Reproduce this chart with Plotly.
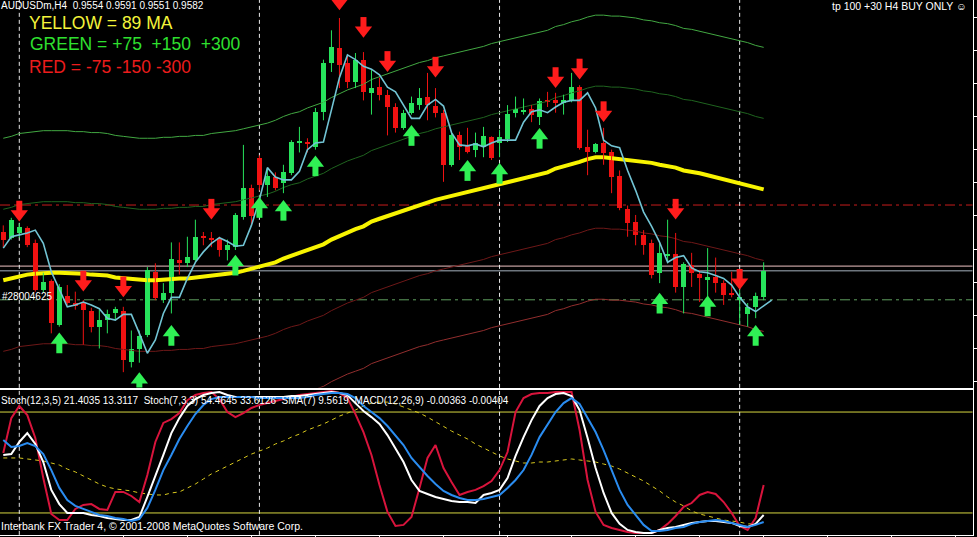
import plotly.graph_objects as go

# ---------------- data (prices in pips = price * 10000) ----------------
PIP = 0.0001
open_pips = [9623,9617,9622,9627,9611,9562,9571,9525,9555,9548,
             9548,9540,9523,9530,9537,9540,9486,9499,9514,9581,
             9551,9559,9593,9590,9593,9619,9617,9617,9604,9607,
             9639,9669,9701,9673,9681,9675,9685,9717,9718,9713,
             9750,9802,9817,9801,9781,9805,9770,9776,9768,9755,
             9733,9749,9757,9766,9756,9749,9694,9725,9715,9710,
             9713,9723,9717,9721,9749,9750,9753,9744,9762,9762,
             9760,9761,9776,9713,9708,9717,9707,9682,9647,9634,
             9620,9611,9580,9598,9600,9565,9588,9579,9572,9575,
             9569,9559,9551,9536,9544,9554]
high_pips = [9630,9638,9632,9629,9615,9580,9573,9568,9567,9560,
             9551,9543,9541,9541,9544,9544,9519,9519,9586,9590,
             9569,9612,9612,9618,9636,9623,9623,9618,9615,9643,
             9715,9673,9704,9691,9686,9694,9720,9734,9722,9754,
             9805,9836,9849,9810,9812,9813,9794,9786,9773,9759,
             9752,9766,9775,9791,9775,9752,9729,9729,9733,9728,
             9734,9724,9731,9757,9766,9764,9757,9764,9771,9770,
             9768,9791,9778,9731,9717,9733,9710,9688,9651,9641,
             9625,9615,9611,9636,9622,9591,9601,9583,9606,9596,
             9572,9581,9562,9548,9559,9591]
low_pips = [9607,9615,9617,9607,9560,9559,9516,9523,9546,9541,
            9504,9517,9500,9516,9530,9475,9480,9485,9512,9551,
            9548,9537,9578,9586,9591,9609,9607,9597,9593,9604,
            9636,9630,9667,9660,9667,9664,9683,9707,9707,9710,
            9741,9792,9775,9775,9775,9762,9747,9762,9725,9728,
            9731,9747,9752,9741,9744,9676,9692,9699,9706,9702,
            9702,9699,9702,9718,9744,9747,9739,9736,9755,9749,
            9747,9760,9710,9683,9706,9694,9664,9646,9618,9609,
            9599,9574,9569,9590,9559,9537,9565,9549,9546,9559,
            9546,9554,9525,9523,9532,9551]
close_pips = [9615,9636,9628,9609,9562,9570,9527,9565,9548,9545,
              9541,9523,9530,9536,9542,9488,9499,9513,9583,9553,
              9559,9594,9590,9597,9618,9617,9615,9604,9609,9641,
              9670,9640,9673,9682,9670,9686,9718,9718,9716,9750,
              9801,9818,9799,9781,9805,9771,9775,9768,9755,9733,
              9749,9759,9765,9757,9749,9694,9725,9713,9708,9717,
              9724,9701,9723,9748,9753,9752,9747,9761,9761,9760,
              9762,9776,9712,9707,9716,9706,9681,9648,9632,9620,
              9609,9578,9601,9600,9565,9589,9580,9574,9575,9569,
              9556,9556,9554,9544,9555,9582]

# 89-period moving average (yellow)
ma89_pips = [9572,9574,9577,9578,9579,9580,9580,9580,9580,9579,
             9579,9578,9578,9577,9575,9574,9573,9572,9572,9572,
             9573,9573,9574,9574,9575,9575,9577,9578,9579,9580,
             9582,9584,9586,9588,9591,9595,9598,9600,9604,9607,
             9610,9615,9619,9623,9626,9629,9634,9637,9640,9643,
             9646,9649,9652,9654,9657,9659,9661,9663,9665,9667,
             9669,9672,9674,9676,9678,9680,9682,9684,9686,9690,
             9692,9695,9697,9700,9702,9702,9701,9701,9700,9699,
             9697,9696,9694,9693,9691,9688,9687,9685,9683,9681,
             9679,9677,9675,9673,9670,9668]
band_pips_up = [75, 150, 300]
band_pips_dn = [75, 150, 300]

# fast shifted MA (light blue), one bar longer than the candles
fast_ma_pips = [9606,9618,9620,9622,9625,9611,9581,9563,9544,9546,
                9549,9546,9542,9532,9530,9536,9536,9516,9495,9509,
                9537,9554,9554,9574,9591,9602,9611,9617,9613,9608,
                9609,9630,9657,9691,9681,9678,9678,9687,9710,9717,
                9718,9752,9786,9810,9805,9798,9795,9789,9776,9771,
                9757,9743,9743,9757,9763,9756,9728,9715,9714,9716,
                9713,9717,9720,9720,9720,9739,9750,9752,9749,9755,
                9760,9762,9762,9770,9754,9720,9714,9712,9688,9667,
                9644,9629,9612,9591,9596,9598,9585,9581,9580,9577,
                9574,9567,9554,9544,9539,9545,9551]

# signal arrows (bar index, arrow tip in pips)
down_idx = [2, 10, 15, 26, 42, 45, 48, 54, 69, 72, 75, 84, 92]
down_tip_pips = [9634, 9560, 9554, 9636, 9857, 9828, 9792, 9786, 9775, 9784, 9739, 9636, 9562]
up_idx = [7, 17, 21, 29, 32, 35, 39, 51, 58, 62, 67, 82, 88, 94]
up_tip_pips = [9517, 9475, 9525, 9599, 9660, 9657, 9704, 9736, 9699, 9696, 9733, 9559, 9556, 9525]

# horizontal price lines
stop_red_level = 0.96515
order_green_level = 0.95514
ask_level = 0.9587
bid_level = 0.9582

# period separators (bar index)
separator_idx = [2, 32, 62, 92]
time_tick_idx = list(range(7, 121, 8))

# lower window indicators
stoch7_main = [55.6,76.4,83.6,78.2,64.6,40.8,19.4,15.8,15.8,22.4,
               24.8,25.3,22.4,21.8,32.5,32.5,30.1,26.5,42.6,62.2,
               73.5,75.8,79.4,87.1,90.1,91.3,91.9,87.7,80.0,77.0,
               79.4,82.4,84.2,85.3,86.5,87.7,88.9,90.1,90.7,91.3,
               91.9,92.5,91.3,88.3,78.8,68.1,54.5,36.6,20.6,12.3,
               12.9,17.6,34.9,52.7,60.4,46.7,38.4,30.7,32.5,33.7,
               36.0,39.0,45.5,56.2,80.0,88.3,90.7,91.3,91.3,91.9,
               91.9,91.9,69.3,39.6,20.6,12.9,11.1,9.9,8.7,8.1,
               8.1,8.1,9.9,13.5,18.2,23.6,25.9,30.7,32.5,31.3,
               26.5,20.0,12.3,9.9,17.0,36.6]
stoch12_main = [54.5,55.0,62.2,67.5,61.0,50.3,33.7,25.3,20.0,20.0,
                20.0,18.8,18.2,17.0,16.4,15.8,15.8,17.6,29.5,42.6,
                54.5,67.5,76.4,83.6,87.7,90.1,91.3,91.9,90.1,88.9,
                88.9,88.9,88.9,88.9,88.9,88.9,89.5,89.5,90.1,90.7,
                91.3,91.9,91.3,90.1,85.3,80.6,77.0,72.9,66.3,58.6,
                50.3,39.6,33.1,31.3,29.5,28.3,27.1,26.5,26.5,25.9,
                30.7,31.9,33.7,40.8,53.9,65.1,75.2,83.6,88.3,90.7,
                91.3,89.5,81.2,64.6,46.7,31.9,20.0,13.5,9.9,8.7,
                8.1,8.1,9.9,11.1,11.7,12.9,14.1,14.6,15.2,15.2,
                14.6,14.1,12.3,11.7,13.5,18.8]
stoch12_signal = [63.4,59.2,59.8,61.6,59.8,55.0,45.5,34.9,27.7,24.2,
                  22.4,20.6,18.8,18.2,17.0,16.4,15.2,16.4,23.0,33.7,
                  45.5,54.5,64.0,71.7,78.8,84.2,87.7,88.9,88.9,88.9,
                  88.9,88.9,88.3,88.3,88.3,88.3,88.3,88.3,88.9,90.1,
                  90.7,91.3,91.3,90.7,88.3,83.6,80.0,76.4,71.7,65.7,
                  60.4,52.7,47.3,42.0,37.2,33.1,30.7,28.9,27.7,27.7,
                  28.3,29.5,30.7,34.9,39.6,45.5,54.5,65.1,72.9,80.0,
                  85.3,88.3,84.8,76.4,68.1,57.4,45.5,33.7,24.8,18.8,
                  12.9,9.3,9.3,9.9,11.1,11.7,13.5,14.6,15.2,15.8,
                  15.2,14.1,12.9,11.7,12.9,14.6]
sma7_line = [52.7,52.7,52.7,52.1,51.5,50.9,49.7,48.5,46.1,44.4,
             42.0,39.6,37.2,35.4,34.3,33.7,33.1,31.9,31.3,30.7,
             30.7,31.9,32.5,34.9,37.2,40.2,43.2,45.5,47.9,50.3,
             52.7,55.0,56.8,58.6,61.0,62.8,65.1,66.9,69.3,71.1,
             72.9,75.2,77.6,79.4,81.2,83.6,85.3,85.9,85.9,84.8,
             83.0,81.2,79.4,77.0,74.1,71.7,68.7,66.3,64.0,61.0,
             58.6,56.2,53.9,52.1,50.9,49.7,49.7,50.3,50.3,50.9,
             51.5,52.1,51.5,50.9,50.3,49.1,47.9,46.1,43.8,41.4,
             39.0,36.0,33.1,29.5,26.5,24.2,21.2,19.4,18.2,17.0,
             15.8,15.2,14.6,13.5,13.5,14.1]
stoch_levels = [80, 20]

# ---------------- build ----------------
o = [v * PIP for v in open_pips]
h = [v * PIP for v in high_pips]
l = [v * PIP for v in low_pips]
c = [v * PIP for v in close_pips]
ma = [v * PIP for v in ma89_pips]
fast = [v * PIP for v in fast_ma_pips]
n = len(o)
idx = list(range(n))

GREEN = "#27e35c"
RED = "#f01212"
AGREEN = "#30f055"
ARED = "#ff1c1c"

fig = go.Figure()

# bands around the 89 MA
band_styles_up = {75: "#1f641f", 150: "#42a842", 300: "#42a842"}
band_styles_dn = {75: "#6e1818", 150: "#922e2e", 300: "#922e2e"}
for p in band_pips_up:
    fig.add_trace(go.Scatter(x=idx, y=[m + p * PIP for m in ma], mode="lines",
                             line=dict(color=band_styles_up[p], width=1), hoverinfo="skip"))
for p in band_pips_dn:
    fig.add_trace(go.Scatter(x=idx, y=[m - p * PIP for m in ma], mode="lines",
                             line=dict(color=band_styles_dn[p], width=1), hoverinfo="skip"))

# yellow 89 MA
fig.add_trace(go.Scatter(x=idx, y=ma, mode="lines", line=dict(color="#f8f400", width=4), hoverinfo="skip"))

# candles
up = [i for i in idx if c[i] >= o[i]]
dn = [i for i in idx if c[i] < o[i]]
MINB = 0.00016
for group, col in ((up, GREEN), (dn, RED)):
    wx, wy = [], []
    for i in group:
        wx += [i, i, None]
        wy += [l[i], h[i], None]
    fig.add_trace(go.Scatter(x=wx, y=wy, mode="lines", line=dict(color=col, width=1), hoverinfo="skip"))
    fig.add_trace(go.Bar(x=group,
                         base=[min(o[i], c[i]) for i in group],
                         y=[max(abs(c[i] - o[i]), MINB) for i in group],
                         width=0.68, marker=dict(color=col, line=dict(width=0)), hoverinfo="skip"))

# fast MA
fig.add_trace(go.Scatter(x=list(range(len(fast))), y=fast, mode="lines",
                         line=dict(color="#72c4d4", width=1.6), hoverinfo="skip"))

# arrows
HEAD = 0.0008
STEM = 0.0022
dt = [v * PIP for v in down_tip_pips]
ut = [v * PIP for v in up_tip_pips]
sx, sy = [], []
for i, t in zip(down_idx, dt):
    sx += [i, i, None]
    sy += [t + HEAD, t + STEM, None]
fig.add_trace(go.Scatter(x=sx, y=sy, mode="lines", line=dict(color=ARED, width=6), hoverinfo="skip"))
fig.add_trace(go.Scatter(x=down_idx, y=[t + HEAD for t in dt], mode="markers",
                         marker=dict(symbol="triangle-down", size=15, color=ARED, line=dict(width=0)),
                         hoverinfo="skip"))
sx, sy = [], []
for i, t in zip(up_idx, ut):
    sx += [i, i, None]
    sy += [t - HEAD, t - STEM, None]
fig.add_trace(go.Scatter(x=sx, y=sy, mode="lines", line=dict(color=AGREEN, width=6), hoverinfo="skip"))
fig.add_trace(go.Scatter(x=up_idx, y=[t - HEAD for t in ut], mode="markers",
                         marker=dict(symbol="triangle-up", size=15, color=AGREEN, line=dict(width=0)),
                         hoverinfo="skip"))

# lower window
fig.add_trace(go.Scatter(x=idx, y=sma7_line, mode="lines", xaxis="x2", yaxis="y2",
                         line=dict(color="#d8c81e", width=1, dash="4px,4px"), hoverinfo="skip"))
fig.add_trace(go.Scatter(x=idx, y=stoch7_main, mode="lines", xaxis="x2", yaxis="y2",
                         line=dict(color="#d8143c", width=2), hoverinfo="skip"))
fig.add_trace(go.Scatter(x=idx, y=stoch12_main, mode="lines", xaxis="x2", yaxis="y2",
                         line=dict(color="#ffffff", width=2), hoverinfo="skip"))
fig.add_trace(go.Scatter(x=idx, y=stoch12_signal, mode="lines", xaxis="x2", yaxis="y2",
                         line=dict(color="#2a8cf0", width=2), hoverinfo="skip"))

shapes = []
DD = "10px,4px,3px,4px"
for lvl, col, dash in ((stop_red_level, "#c81c1c", DD), (order_green_level, "#5f9f5f", DD),
                       (ask_level, "#f0c4c4", "solid"), (bid_level, "#a4b0bc", "solid")):
    shapes.append(dict(type="line", xref="x domain", yref="y", x0=0, x1=1, y0=lvl, y1=lvl,
                       line=dict(color=col, width=1, dash=dash), layer="below"))
for lvl in stoch_levels:
    shapes.append(dict(type="line", xref="x2 domain", yref="y2", x0=0, x1=1, y0=lvl, y1=lvl,
                       line=dict(color="#d6d640", width=1), layer="below"))
for s in separator_idx:
    shapes.append(dict(type="line", xref="x", yref="paper", x0=s, x1=s, y0=0.004, y1=1,
                       line=dict(color="#e8e8e8", width=1, dash="4px,3px"), layer="below"))

W, H = 977, 537


def ann(text, xp, yp, color, size, anchor="left"):
    return dict(text=text, x=xp / W, y=1 - yp / H, xref="paper", yref="paper",
                xanchor=anchor, yanchor="middle", showarrow=False,
                font=dict(family="Liberation Sans, Arial, sans-serif", size=size, color=color))


annotations = [
    ann("AUDUSDm,H4  0.9554 0.9591 0.9551 0.9582", -1, 5, "#ffffff", 10),
    ann("YELLOW = 89 MA", 27, 23, "#f4f43a", 17.5),
    ann("GREEN = +75  +150  +300", 28, 44, "#2fe02f", 17.5),
    ann("RED = -75 -150 -300", 27, 67, "#ec1c1c", 17.5),
    ann("tp 100 +30 H4 BUY ONLY ☺", 969, 6, "#ffffff", 10.5, "right"),
    ann("#28004625", 0, 296, "#ffffff", 10),
    ann("Stoch(12,3,5) 21.4035 13.3117  Stoch(7,3,3) 54.4645 33.6126  SMA(7) 9.5619  MACD(12,26,9) -0.00363 -0.00404",
        -1, 400, "#ffffff", 10),
    ann("Interbank FX Trader 4, © 2001-2008 MetaQuotes Software Corp.", -1, 526, "#ffffff", 10.5),
]

xdom = [0, 972.5 / W]
fig.update_layout(
    width=W, height=H, margin=dict(l=0, r=0, t=0, b=0),
    paper_bgcolor="black", plot_bgcolor="black",
    showlegend=False, barmode="overlay", bargap=0,
    xaxis=dict(domain=xdom, range=[-0.41, 121.09], showgrid=False, zeroline=False,
               showline=True, linecolor="white", linewidth=1, ticks="", showticklabels=False,
               anchor="y", fixedrange=True),
    yaxis=dict(domain=[1 - 387.5 / H, 1], range=[0.94588, 0.98680], side="right",
               showgrid=False, zeroline=False, showline=True, linecolor="white", linewidth=1,
               ticks="outside", ticklen=4, tickcolor="white", dtick=0.0035, tick0=0.9675,
               showticklabels=False, anchor="x"),
    xaxis2=dict(domain=xdom, matches="x", anchor="y2", showgrid=False, zeroline=False,
                showline=True, mirror=True, linecolor="white", linewidth=1,
                ticks="outside", tickvals=time_tick_idx, ticklen=3, tickcolor="white",
                showticklabels=False),
    yaxis2=dict(domain=[1 - 535 / H, 1 - 389.5 / H], range=[6.9, 93.4], side="right",
                showgrid=False, zeroline=False, showline=True, linecolor="white", linewidth=1,
                ticks="", showticklabels=False, anchor="x2"),
    shapes=shapes, annotations=annotations,
)

fig.write_html("out.html", config={"displayModeBar": False})
